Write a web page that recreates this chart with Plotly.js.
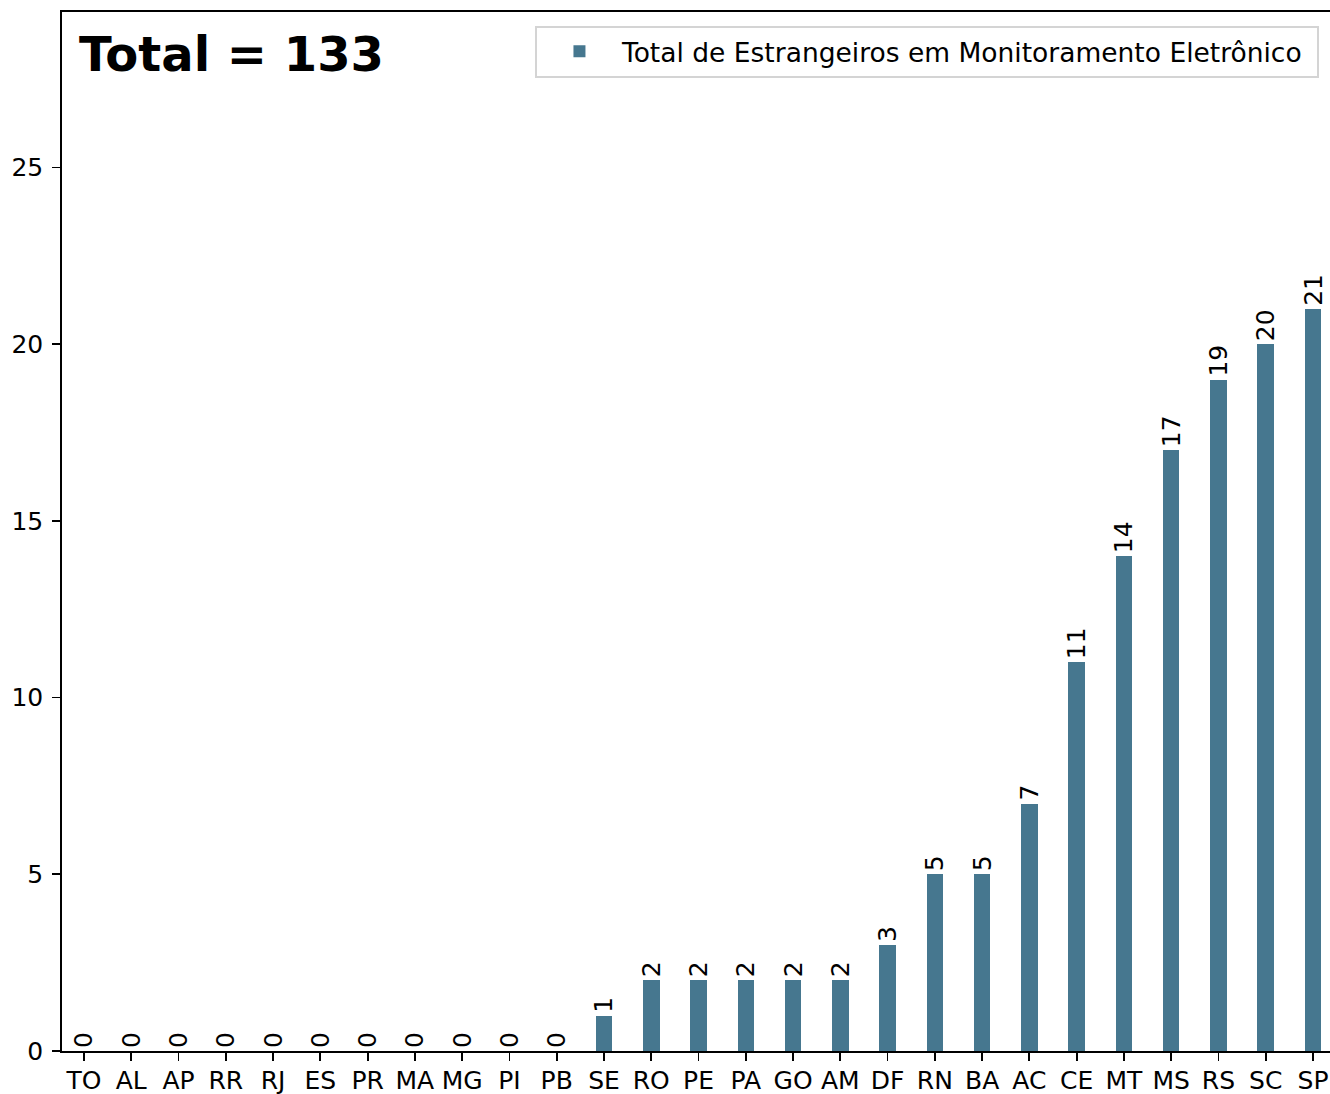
<!DOCTYPE html>
<html>
<head>
<meta charset="utf-8">
<script src="https://cdn.plot.ly/plotly-3.0.1.min.js"></script>
<style>
html, body { margin: 0; padding: 0; overflow: hidden; background: #fff; }
#chart { width: 1337px; height: 1094px; }
</style>
</head>
<body>
<div id="chart"></div>
<script>
const states = ["TO","AL","AP","RR","RJ","ES","PR","MA","MG","PI","PB","SE","RO","PE","PA","GO","AM","DF","RN","BA","AC","CE","MT","MS","RS","SC","SP"];
const totals = [0,0,0,0,0,0,0,0,0,0,0,1,2,2,2,2,2,3,5,5,7,11,14,17,19,20,21];
const seriesName = "Total de Estrangeiros em Monitoramento Eletrônico";
const totalLabel = "Total = 133";
const yTicks = [0,5,10,15,20,25];

const font = "DejaVu Sans, Verdana, sans-serif";

const trace = {
  type: "bar",
  x: states,
  y: totals,
  name: seriesName + "\u00a0",
  width: 0.35,
  marker: { color: "#46778f", line: { width: 0 } },
  text: totals.map(String),
  textposition: "outside",
  textangle: -90,
  constraintext: "none",
  cliponaxis: false,
  textfont: { family: font, size: 25, color: "#000" },
  showlegend: true,
  hoverinfo: "x+y"
};

const axisCommon = {
  showline: true,
  linecolor: "#000",
  linewidth: 1.8,
  mirror: true,
  ticks: "outside",
  ticklen: 8,
  tickwidth: 1.8,
  tickcolor: "#000",
  showgrid: false,
  zeroline: false,
  tickfont: { family: font, size: 25, color: "#000" }
};

const layout = {
  width: 1337,
  height: 1094,
  margin: { l: 62, r: 2, t: 12, b: 43 },
  paper_bgcolor: "#fff",
  plot_bgcolor: "#fff",
  bargap: 0,
  xaxis: Object.assign({}, axisCommon, {
    type: "category",
    range: [-0.465, 26.465],
    ticklabelstandoff: -2
  }),
  yaxis: Object.assign({}, axisCommon, {
    range: [0, 29.4],
    tickvals: yTicks,
    ticktext: yTicks.map(String),
    ticklabelstandoff: 4
  }),
  showlegend: true,
  legend: {
    x: 0.9874, xanchor: "right",
    y: 0.987, yanchor: "top",
    bgcolor: "rgba(255,255,255,0.8)",
    bordercolor: "#d4d4d4",
    borderwidth: 2,
    itemwidth: 75,
    font: { family: font, size: 26.5, color: "#000" }
  },
  annotations: [{
    text: "<b>" + totalLabel + "</b>",
    xref: "paper", yref: "paper",
    x: 0.012, y: 0.988,
    xanchor: "left", yanchor: "top",
    showarrow: false,
    font: { family: font, size: 48, color: "#000" }
  }]
};

Plotly.newPlot("chart", [trace], layout, { displayModeBar: false, staticPlot: true });
</script>
</body>
</html>
